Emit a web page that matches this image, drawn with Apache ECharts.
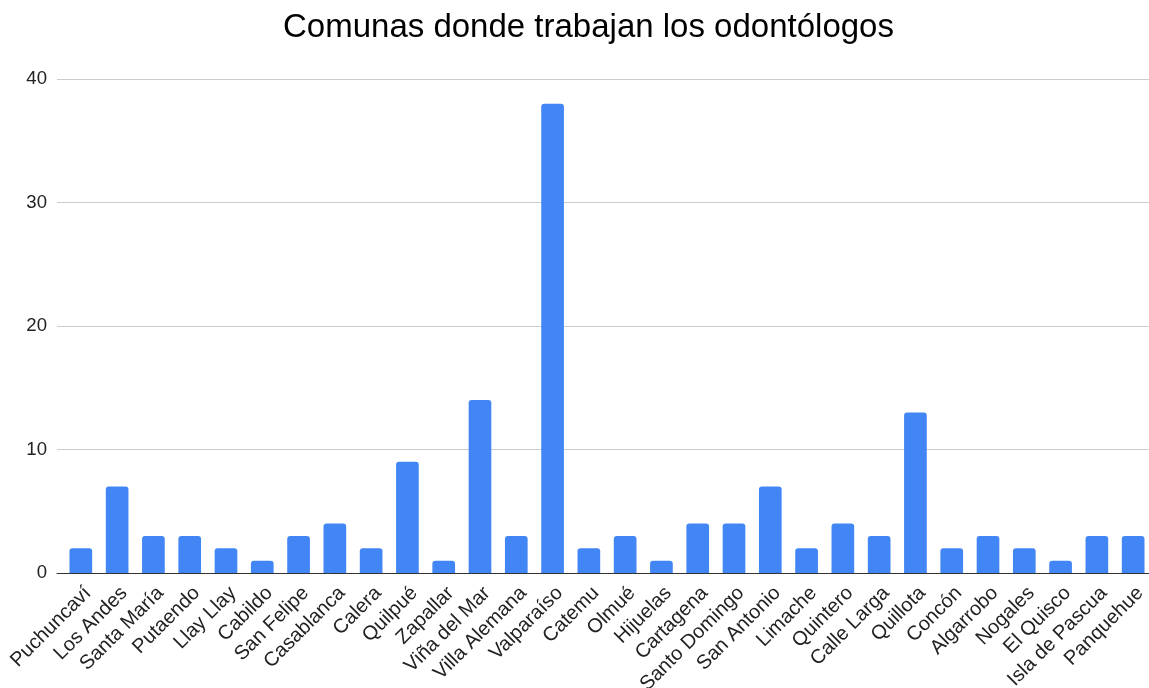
<!DOCTYPE html>
<html>
<head>
<meta charset="utf-8">
<script src="https://cdn.jsdelivr.net/npm/echarts@6/dist/echarts.min.js"></script>
<style>
  html, body { margin: 0; padding: 0; background: #fff; }
  #chart { width: 1149px; height: 688px; }
</style>
</head>
<body>
<div id="chart"></div>
<script>
// Communes where dentists work, with the count for each one
const comunas = [
  'Puchuncaví', 'Los Andes', 'Santa María', 'Putaendo', 'Llay Llay', 'Cabildo',
  'San Felipe', 'Casablanca', 'Calera', 'Quilpué', 'Zapallar', 'Viña del Mar',
  'Villa Alemana', 'Valparaíso', 'Catemu', 'Olmué', 'Hijuelas', 'Cartagena',
  'Santo Domingo', 'San Antonio', 'Limache', 'Quintero', 'Calle Larga', 'Quillota',
  'Concón', 'Algarrobo', 'Nogales', 'El Quisco', 'Isla de Pascua', 'Panquehue'
];
const odontologos = [
  2, 7, 3, 3, 2, 1,
  3, 4, 2, 9, 1, 14,
  3, 38, 2, 3, 1, 4,
  4, 7, 2, 4, 3, 13,
  2, 3, 2, 1, 3, 3
];
const yTicks = [0, 10, 20, 30, 40];

const FONT = 'Liberation Sans, Arial, sans-serif';
const TOP = 79, BOTTOM = 115;

const chart = echarts.init(document.getElementById('chart'), null, { renderer: 'canvas' });
chart.setOption({
  animation: false,
  backgroundColor: '#ffffff',
  title: {
    text: 'Comunas donde trabajan los odontólogos',
    left: 278,
    top: 6,
    textStyle: { fontFamily: FONT, fontSize: 33, fontWeight: 'normal', color: '#000' }
  },
  grid: [
    // frame: value axis, gridlines and baseline
    { left: 57, right: 0, top: TOP, bottom: BOTTOM, containLabel: false, outerBoundsMode: 'none' },
    // bars and category labels
    { left: 62.7, right: -2.3, top: TOP, bottom: BOTTOM, containLabel: false, outerBoundsMode: 'none' }
  ],
  xAxis: [
    {
      gridIndex: 0,
      type: 'category',
      data: comunas,
      axisTick: { show: false },
      axisLabel: { show: false },
      axisLine: { show: true, lineStyle: { color: '#333', width: 1 } },
      z: 3
    },
    {
      gridIndex: 1,
      type: 'category',
      data: comunas,
      axisTick: { show: false },
      axisLine: { show: false },
      axisLabel: {
        interval: 0,
        rotate: 45,
        margin: 10,
        verticalAlign: 'top',
        fontFamily: FONT,
        fontSize: 20,
        color: '#222'
      }
    }
  ],
  yAxis: [
    {
      gridIndex: 0,
      type: 'value',
      min: yTicks[0],
      max: yTicks[yTicks.length - 1],
      interval: 10,
      axisLine: { show: false },
      axisTick: { show: false },
      splitLine: { lineStyle: { color: '#cccccc', width: 1 } },
      axisLabel: { margin: 10, fontFamily: FONT, fontSize: 18.6, color: '#222' }
    },
    {
      gridIndex: 1,
      type: 'value',
      min: yTicks[0],
      max: yTicks[yTicks.length - 1],
      interval: 10,
      show: false,
      splitLine: { show: false }
    }
  ],
  series: [{
    type: 'bar',
    xAxisIndex: 1,
    yAxisIndex: 1,
    data: odontologos,
    barWidth: '62.5%',
    itemStyle: { color: '#4285f4', borderRadius: [3, 3, 0, 0] }
  }]
});
</script>
</body>
</html>
